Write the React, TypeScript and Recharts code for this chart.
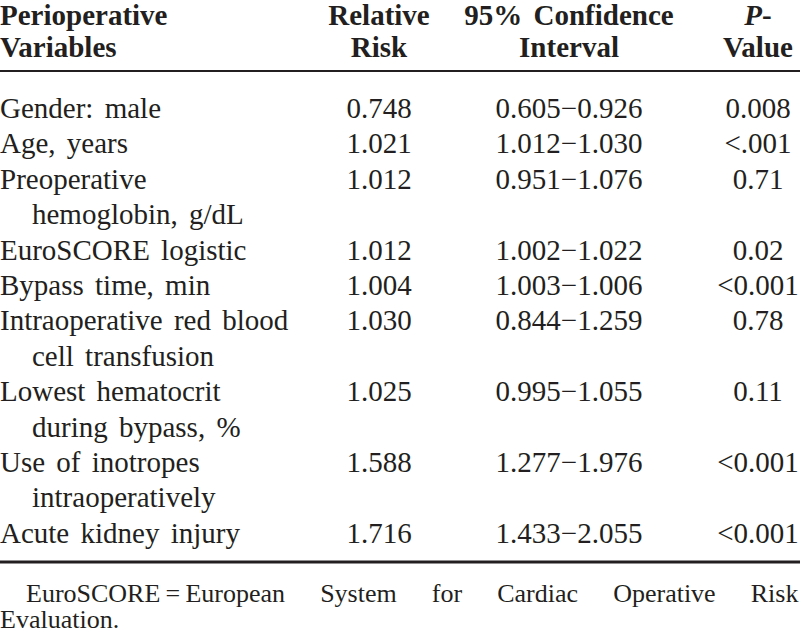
import { ScatterChart, Scatter, XAxis, YAxis, ReferenceLine } from 'recharts';

// table content
const headerLine1 = ['Perioperative', 'Relative', '95% Confidence', 'P-'];
const headerLine2 = ['Variables', 'Risk', 'Interval', 'Value'];

const variables = [
  ['Gender: male'],
  ['Age, years'],
  ['Preoperative', 'hemoglobin, g/dL'],
  ['EuroSCORE logistic'],
  ['Bypass time, min'],
  ['Intraoperative red blood', 'cell transfusion'],
  ['Lowest hematocrit', 'during bypass, %'],
  ['Use of inotropes', 'intraoperatively'],
  ['Acute kidney injury'],
];
const relativeRisk = [0.748, 1.021, 1.012, 1.012, 1.004, 1.03, 1.025, 1.588, 1.716];
const ciLower = [0.605, 1.012, 0.951, 1.002, 1.003, 0.844, 0.995, 1.277, 1.433];
const ciUpper = [0.926, 1.03, 1.076, 1.022, 1.006, 1.259, 1.055, 1.976, 2.055];
const pValues = ['0.008', '<.001', '0.71', '0.02', '<0.001', '0.78', '0.11', '<0.001', '<0.001'];

// thin spaces around "=" so the justified gaps only widen between words
const footnote = ['EuroSCORE\u2009=\u2009European System for Cardiac Operative Risk', 'Evaluation.'];

// layout (pixels / line units)
const WIDTH = 800;
const HEIGHT = 634;
const LINE_H = 35.4;
const FIRST_BASE = 118;
const COL_X = [0, 379, 569, 758];
const INDENT = 32;
const FOOT_X = 26;
const HEADER_LINES = [-2.63, -1.71];
const TOP_RULE = -1.33;
const BOTTOM_RULE = 12.54;
const FOOT_LINES = [13.67, 14.41];
const INK = '#231f20';
const FONT = '"Liberation Serif", "Times New Roman", serif';

// each row starts on the line after the previous row's last line
const rowStart: number[] = [];
variables.reduce((acc, lines, i) => {
  rowStart[i] = acc;
  return acc + lines.length;
}, 0);

const headerData = [headerLine1, headerLine2].flatMap((line, li) =>
  line.map((text, col) => ({ x: COL_X[col], y: HEADER_LINES[li], text, col }))
);

const variableData = variables.flatMap((lines, i) =>
  lines.map((text, k) => ({ x: COL_X[0] + (k > 0 ? INDENT : 0), y: rowStart[i] + k, text, col: 0 }))
);

const valueData = variables.flatMap((_, i) => [
  { x: COL_X[1], y: rowStart[i], text: relativeRisk[i].toFixed(3), col: 1 },
  { x: COL_X[2], y: rowStart[i], text: `${ciLower[i].toFixed(3)}\u2212${ciUpper[i].toFixed(3)}`, col: 2 },
  { x: COL_X[3], y: rowStart[i], text: pValues[i], col: 3 },
]);

const footData = footnote.map((text, i) => ({ x: i === 0 ? FOOT_X : 0, y: FOOT_LINES[i], text, col: 0 }));

const renderCell = (bold: boolean) => (props: any) => {
  const { cx, cy, payload } = props;
  const anchor = payload.col === 0 ? 'start' : 'middle';
  const italicP = payload.text === 'P-';
  return (
    <text
      x={cx}
      y={cy}
      textAnchor={anchor}
      fill={INK}
      style={{ fontFamily: FONT, fontSize: 29, wordSpacing: 4, fontWeight: bold ? 'bold' : 'normal' }}
    >
      {italicP ? (
        <>
          <tspan fontStyle="italic">P</tspan>-
        </>
      ) : (
        payload.text
      )}
    </text>
  );
};

// first footnote line is justified to the right edge through wider word gaps
const renderFoot = (props: any) => {
  const { cx, cy, payload } = props;
  const justify = payload.x > 0;
  return (
    <text
      x={cx}
      y={cy}
      fill={INK}
      style={{ fontFamily: FONT, fontSize: 26, wordSpacing: justify ? 28.6 : 0 }}
    >
      {payload.text}
    </text>
  );
};

export default function App() {
  return (
    <div style={{ position: 'fixed', left: 0, top: 0, background: '#fff' }}>
      <ScatterChart width={WIDTH} height={HEIGHT} margin={{ top: 0, right: 0, bottom: 0, left: 0 }}>
        <XAxis type="number" dataKey="x" domain={[0, WIDTH]} hide allowDataOverflow />
        <YAxis
          type="number"
          dataKey="y"
          domain={[-FIRST_BASE / LINE_H, (HEIGHT - FIRST_BASE) / LINE_H]}
          reversed
          hide
          allowDataOverflow
        />
        <ReferenceLine y={TOP_RULE} stroke={INK} strokeWidth={2} />
        <ReferenceLine y={BOTTOM_RULE} stroke={INK} strokeWidth={3} />
        <Scatter data={headerData} shape={renderCell(true)} isAnimationActive={false} />
        <Scatter data={variableData} shape={renderCell(false)} isAnimationActive={false} />
        <Scatter data={valueData} shape={renderCell(false)} isAnimationActive={false} />
        <Scatter data={footData} shape={renderFoot} isAnimationActive={false} />
      </ScatterChart>
    </div>
  );
}
